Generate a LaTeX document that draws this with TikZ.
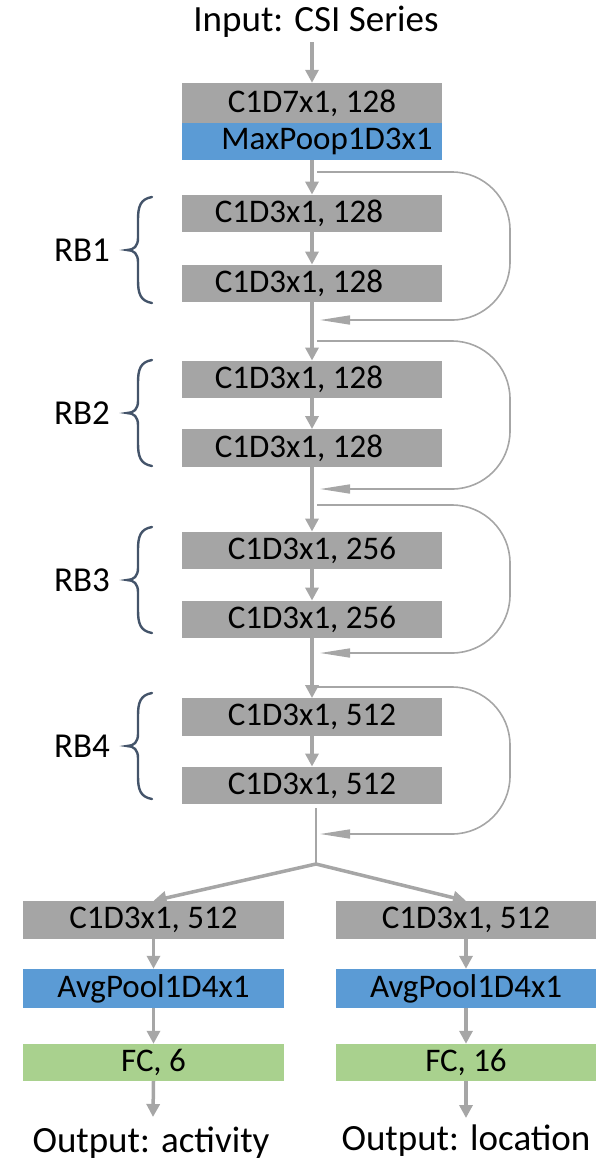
\documentclass[tikz,border=0pt]{standalone}
\usepackage{fontspec}
\setmainfont{Carlito}
\usetikzlibrary{arrows.meta}
\definecolor{boxgray}{HTML}{A5A5A5}
\definecolor{linegray}{HTML}{A6A6A6}
\definecolor{poolblue}{HTML}{5B9BD5}
\definecolor{fcgreen}{HTML}{A9D18E}
\definecolor{bracecol}{HTML}{44546A}
\begin{document}
\begin{tikzpicture}[x=1pt,y=-1pt,
  txt/.style={font=\fontsize{33}{38}\selectfont, inner sep=0pt},
  iotxt/.style={font=\fontsize{37}{42}\selectfont, inner sep=0pt},
  layer/.style={txt, minimum width=260pt, minimum height=37.5pt, inner sep=0pt, draw=none},
  conv/.style={layer, fill=boxgray},
  pool/.style={layer, fill=poolblue},
  fc/.style={layer, fill=fcgreen},
  arr/.style={draw=linegray, line width=3.5pt, -{Triangle[length=13pt,width=13pt]}},
  skip/.style={draw=linegray, line width=1.6pt, rounded corners=58pt, -{Triangle[length=30pt,width=9pt]}},
  rblabel/.style={font=\fontsize{35}{40}\selectfont, inner sep=0pt},
  rbbrace/.pic={\draw[bracecol, line width=2.4pt, line cap=round]
      (25,-53) .. controls (13,-51) and (11,-43) .. (11,-30) -- (11,-12)
      .. controls (11,-4) and (7,0) .. (0,0)
      .. controls (7,0) and (11,4) .. (11,12) -- (11,30)
      .. controls (11,43) and (13,51) .. (25,53);}
]
\useasboundingbox (0,0) rectangle (616,1168);

% input and stem
\node[iotxt, anchor=base] (inp) at (316,31) {Input: CSI Series};
\coordinate (inpend) at (312,42);
\node[conv, minimum height=40pt] (stem) at (312,103) {C1D7x1, 128};
\node[pool, minimum height=37pt] (maxp) at (312,141.5) {\hspace*{30pt}MaxPoop1D3x1};

% residual blocks
\node[conv] (r1a) at (312,213.5) {\hspace*{-26pt}C1D3x1, 128};
\node[conv] (r1b) at (312,283.5) {\hspace*{-26pt}C1D3x1, 128};
\node[conv] (r2a) at (312,379.5) {\hspace*{-26pt}C1D3x1, 128};
\node[conv] (r2b) at (312,448) {\hspace*{-26pt}C1D3x1, 128};
\node[conv] (r3a) at (312,550.5) {C1D3x1, 256};
\node[conv] (r3b) at (312,619.5) {C1D3x1, 256};
\node[conv] (r4a) at (312,717) {C1D3x1, 512};
\node[conv] (r4b) at (312,785.5) {C1D3x1, 512};

% block labels with braces
\node[rblabel] (rb1) at (82,250) {RB1};
\node[rblabel] (rb2) at (82,413) {RB2};
\node[rblabel] (rb3) at (82,580) {RB3};
\node[rblabel] (rb4) at (82,746) {RB4};
\pic at (127,250) {rbbrace};
\pic at (127,413) {rbbrace};
\pic at (127,580) {rbbrace};
\pic at (127,746) {rbbrace};

% main path
\draw[arr] (inpend) -- (stem.north);
\draw[arr] (maxp.south) -- (r1a.north);
\draw[arr] (r1a.south) -- (r1b.north);
\draw[arr] (r1b.south) -- (r2a.north);
\draw[arr] (r2a.south) -- (r2b.north);
\draw[arr] (r2b.south) -- (r3a.north);
\draw[arr] (r3a.south) -- (r3b.north);
\draw[arr] (r3b.south) -- (r4a.north);
\draw[arr] (r4a.south) -- (r4b.north);

% skip connections
\coordinate (s1) at (317,172); \coordinate (e1) at (320,320);
\coordinate (s2) at (317,341); \coordinate (e2) at (320,489);
\coordinate (s3) at (317,505); \coordinate (e3) at (320,653);
\coordinate (s4) at (317,687); \coordinate (e4) at (320,834);
\draw[skip] (s1) -- (510,172) -- (510,320) -- (e1);
\draw[skip] (s2) -- (510,341) -- (510,489) -- (e2);
\draw[skip] (s3) -- (510,505) -- (510,653) -- (e3);
\draw[skip] (s4) -- (510,687) -- (510,834) -- (e4);

% heads
\node[conv, minimum width=261pt, minimum height=38pt] (hac) at (153.5,920) {C1D3x1, 512};
\node[pool, minimum width=261pt, minimum height=39pt] (hap) at (153.5,988.5) {AvgPool1D4x1};
\node[fc, minimum width=261pt, minimum height=37pt] (haf) at (153.5,1062.5) {FC, 6};
\node[conv, minimum width=260pt, minimum height=38pt] (hlc) at (466,920) {C1D3x1, 512};
\node[pool, minimum width=260pt, minimum height=39pt] (hlp) at (466,988.5) {AvgPool1D4x1};
\node[fc, minimum width=260pt, minimum height=37pt] (hlf) at (466,1062.5) {FC, 16};
\node[iotxt, anchor=base] (outa) at (151,1152) {Output: activity};
\node[iotxt, anchor=base] (outl) at (466,1150) {Output: location};
\coordinate (oa) at (153,1117);
\coordinate (ol) at (466,1118);

% split
\coordinate (split) at (316,864);
\draw[draw=linegray, line width=2pt] (r4b.south -| split) ++(0,4) -- (split);
\draw[arr, line cap=round] (split) -- (hac.north);
\draw[arr, line cap=round] (split) -- (hlc.north);
\draw[arr] (hac.south) -- (hap.north);
\draw[arr] (hap.south) -- (haf.north);
\draw[arr] (haf.south) -- (oa);
\draw[arr] (hlc.south) -- (hlp.north);
\draw[arr] (hlp.south) -- (hlf.north);
\draw[arr] (hlf.south) -- (ol);
\end{tikzpicture}
\end{document}
